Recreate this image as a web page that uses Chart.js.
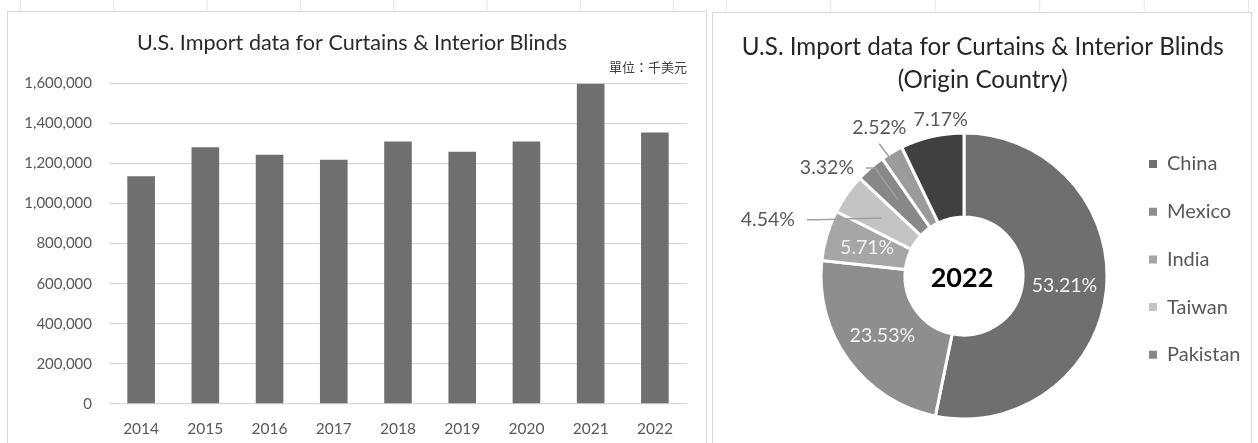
<!DOCTYPE html>
<html>
<head>
<meta charset="utf-8">
<script src="https://cdn.jsdelivr.net/npm/chart.js@4.4.1/dist/chart.umd.min.js"></script>
<style>
  html, body { margin: 0; padding: 0; background: #fff; }
  body { width: 1258px; height: 443px; position: relative; overflow: hidden; }
  .cells { position: absolute; top: 0; height: 443px; }
  #cellsL { left: 0; width: 710px;
    background: linear-gradient(to right, #e4e4e4 0 1px, transparent 1px 93.3px) 20px 0 / 93.3px 100% repeat-x; }
  #cellsR { left: 710px; width: 548px;
    background: linear-gradient(to right, #e4e4e4 0 1px, transparent 1px 104.5px) 15.7px 0 / 104.5px 100% repeat-x; }
  .panel { position: absolute; box-sizing: border-box; border: 1px solid #d9d9d9; background: #fff; overflow: hidden; }
  #panelL { left: 7px; top: 11px; width: 700px; height: 445px; }
  #panelR { left: 712px; top: 12px; width: 540px; height: 445px; }
  canvas { display: block; }
</style>
</head>
<body>
<div class="cells" id="cellsL"></div>
<div class="cells" id="cellsR"></div>
<div class="panel" id="panelL"><canvas id="barChart" width="698" height="431"></canvas></div>
<div class="panel" id="panelR"><canvas id="pieChart" width="538" height="430"></canvas></div>
<script>
// ---- bar chart data (unit: thousand USD) ----
const years = ['2014', '2015', '2016', '2017', '2018', '2019', '2020', '2021', '2022'];
const importValues = [1136000, 1281000, 1243000, 1218000, 1309000, 1258000, 1309000, 1597000, 1354000];
const yMax = 1600000;
const yStep = 200000;
const barTitle = 'U.S. Import data for Curtains & Interior Blinds';
const unitNote = '單位：千美元';

// ---- doughnut data (share of 2022 imports, %) ----
const countries = ['China', 'Mexico', 'India', 'Taiwan', 'Pakistan', 'Unlisted', 'Others'];
const shares = [53.21, 23.53, 5.71, 4.54, 3.32, 2.52, 7.17];
const pieTitle = ['U.S. Import data for Curtains & Interior Blinds', '(Origin Country)'];
const centerLabel = '2022';
const legendCount = 5; // only the first five show in the legend

const sliceColors = ['#6f6f6f', '#8e8e8e', '#a6a6a6', '#c3c3c3', '#888888', '#9b9b9b', '#404040'];

Chart.defaults.font.family = "Lato, 'Noto Sans CJK TC', sans-serif";

new Chart(document.getElementById('barChart'), {
  type: 'bar',
  data: {
    labels: years,
    datasets: [{
      data: importValues,
      backgroundColor: '#6f6f6f',
      barPercentage: 0.43,
      categoryPercentage: 1
    }]
  },
  options: {
    responsive: false,
    animation: false,
    layout: { padding: { left: 9, right: 19, top: 0, bottom: 0 } },
    plugins: {
      legend: { display: false },
      tooltip: { enabled: false },
      title: {
        display: true,
        text: barTitle,
        color: '#2b2b2b',
        font: { size: 21.6, weight: 'normal' },
        padding: { top: 18, bottom: 0 }
      },
      subtitle: {
        display: true,
        text: unitNote,
        align: 'end',
        color: '#404040',
        font: { size: 13, family: "'Noto Sans CJK TC', sans-serif" },
        padding: { top: 3.5, bottom: 8.2 }
      }
    },
    scales: {
      x: {
        grid: { display: false },
        border: { display: false },
        ticks: { color: '#595959', font: { size: 15.5 }, padding: 8, maxRotation: 0 },
        afterFit: s => { s.height = 39; }
      },
      y: {
        min: 0,
        max: yMax,
        ticks: {
          stepSize: yStep,
          color: '#595959',
          font: { size: 15 },
          padding: 17,
          callback: v => v.toLocaleString('en-US')
        },
        grid: { color: '#d9d9d9', lineWidth: 1.3, drawTicks: false },
        border: { display: false },
        afterFit: s => { s.width = 92; }
      }
    }
  }
});

// ---- doughnut ----
const labelFont = 19.5;
const legendFont = 20;
const legendPad = 27.7;
const legendBox = 8;

// legend width is needed to place the doughnut where the reference has it
const measure = document.createElement('canvas').getContext('2d');
measure.font = legendFont + 'px Lato';
const widestName = Math.max(...countries.slice(0, legendCount).map(c => measure.measureText(c).width));
const legendWidth = legendPad + legendBox + legendFont + widestName;
const legendLeft = 408.3;

// how each percentage label sits: inside the ring, or outside with a leader line
const labelPlacement = [
  { mode: 'in' },
  { mode: 'in' },
  { mode: 'in' },
  { mode: 'out', dr: 61, turn: -19, leader: 'side' },
  { mode: 'out', dr: 31.5, turn: -10.9, leader: 'side' },
  { mode: 'out', dr: 27.7, turn: 0.6, leader: 'below' },
  { mode: 'out', dr: 14.7, turn: 4.4 }
];

const donutText = {
  id: 'donutText',
  afterDatasetsDraw(chart) {
    const { ctx } = chart;
    const arcs = chart.getDatasetMeta(0).data;
    ctx.save();
    ctx.font = labelFont + 'px Lato';
    ctx.textAlign = 'center';
    ctx.textBaseline = 'middle';
    arcs.forEach((arc, i) => {
      const p = arc.getProps(['x', 'y', 'startAngle', 'endAngle', 'innerRadius', 'outerRadius'], true);
      const mid = (p.startAngle + p.endAngle) / 2;
      const midR = (p.innerRadius + p.outerRadius) / 2;
      const text = shares[i].toFixed(2) + '%';
      const place = labelPlacement[i];
      if (place.mode === 'in') {
        ctx.fillStyle = '#f2f2f2';
        ctx.fillText(text, p.x + Math.cos(mid) * midR, p.y + Math.sin(mid) * midR);
        return;
      }
      const a = mid + place.turn * Math.PI / 180;
      const r = p.outerRadius + place.dr;
      const lx = p.x + Math.cos(a) * r;
      const ly = p.y + Math.sin(a) * r;
      if (place.leader) {
        const tx = p.x + Math.cos(mid) * midR;
        const ty = p.y + Math.sin(mid) * midR;
        ctx.strokeStyle = '#a0a0a0';
        ctx.lineWidth = 1.5;
        ctx.beginPath();
        if (place.leader === 'side') {
          const sx = lx + ctx.measureText(text).width / 2 + 12;
          ctx.moveTo(sx, ly);
          ctx.lineTo(sx + 9, ly);
        } else {
          ctx.moveTo(lx, ly + 16);
        }
        ctx.lineTo(tx, ty);
        ctx.stroke();
      }
      ctx.fillStyle = '#595959';
      ctx.fillText(text, lx, ly);
    });
    // year in the hole
    const c = arcs[0];
    ctx.fillStyle = '#000';
    ctx.font = 'bold 27px Lato';
    ctx.fillText(centerLabel, c.x - 2, c.y + 2);
    // two-line title, centred over the whole panel
    ctx.fillStyle = '#262626';
    ctx.font = '24.2px Lato';
    pieTitle.forEach((line, k) => ctx.fillText(line, 269.7, 33.7 + k * 33.3));
    ctx.restore();
  }
};

new Chart(document.getElementById('pieChart'), {
  type: 'doughnut',
  data: {
    labels: countries,
    datasets: [{
      data: shares,
      backgroundColor: sliceColors,
      borderColor: '#ffffff',
      borderWidth: 3,
      radius: 143,
      cutout: '41.3%'
    }]
  },
  options: {
    responsive: false,
    animation: false,
    layout: {
      padding: {
        left: 2 * 251 - legendLeft,
        right: 538 - legendLeft - legendWidth,
        top: 113.3,
        bottom: 17.3
      }
    },
    plugins: {
      tooltip: { enabled: false },
      legend: {
        position: 'right',
        align: 'start',
        labels: {
          boxWidth: legendBox,
          boxHeight: legendBox,
          padding: legendPad,
          color: '#595959',
          font: { size: legendFont },
          filter: item => item.index < legendCount,
          generateLabels: chart =>
            Chart.overrides.doughnut.plugins.legend.labels.generateLabels(chart)
              .map(l => ({ ...l, lineWidth: 0, strokeStyle: 'rgba(0,0,0,0)' }))
        }
      }
    }
  },
  plugins: [donutText]
});
</script>
</body>
</html>
